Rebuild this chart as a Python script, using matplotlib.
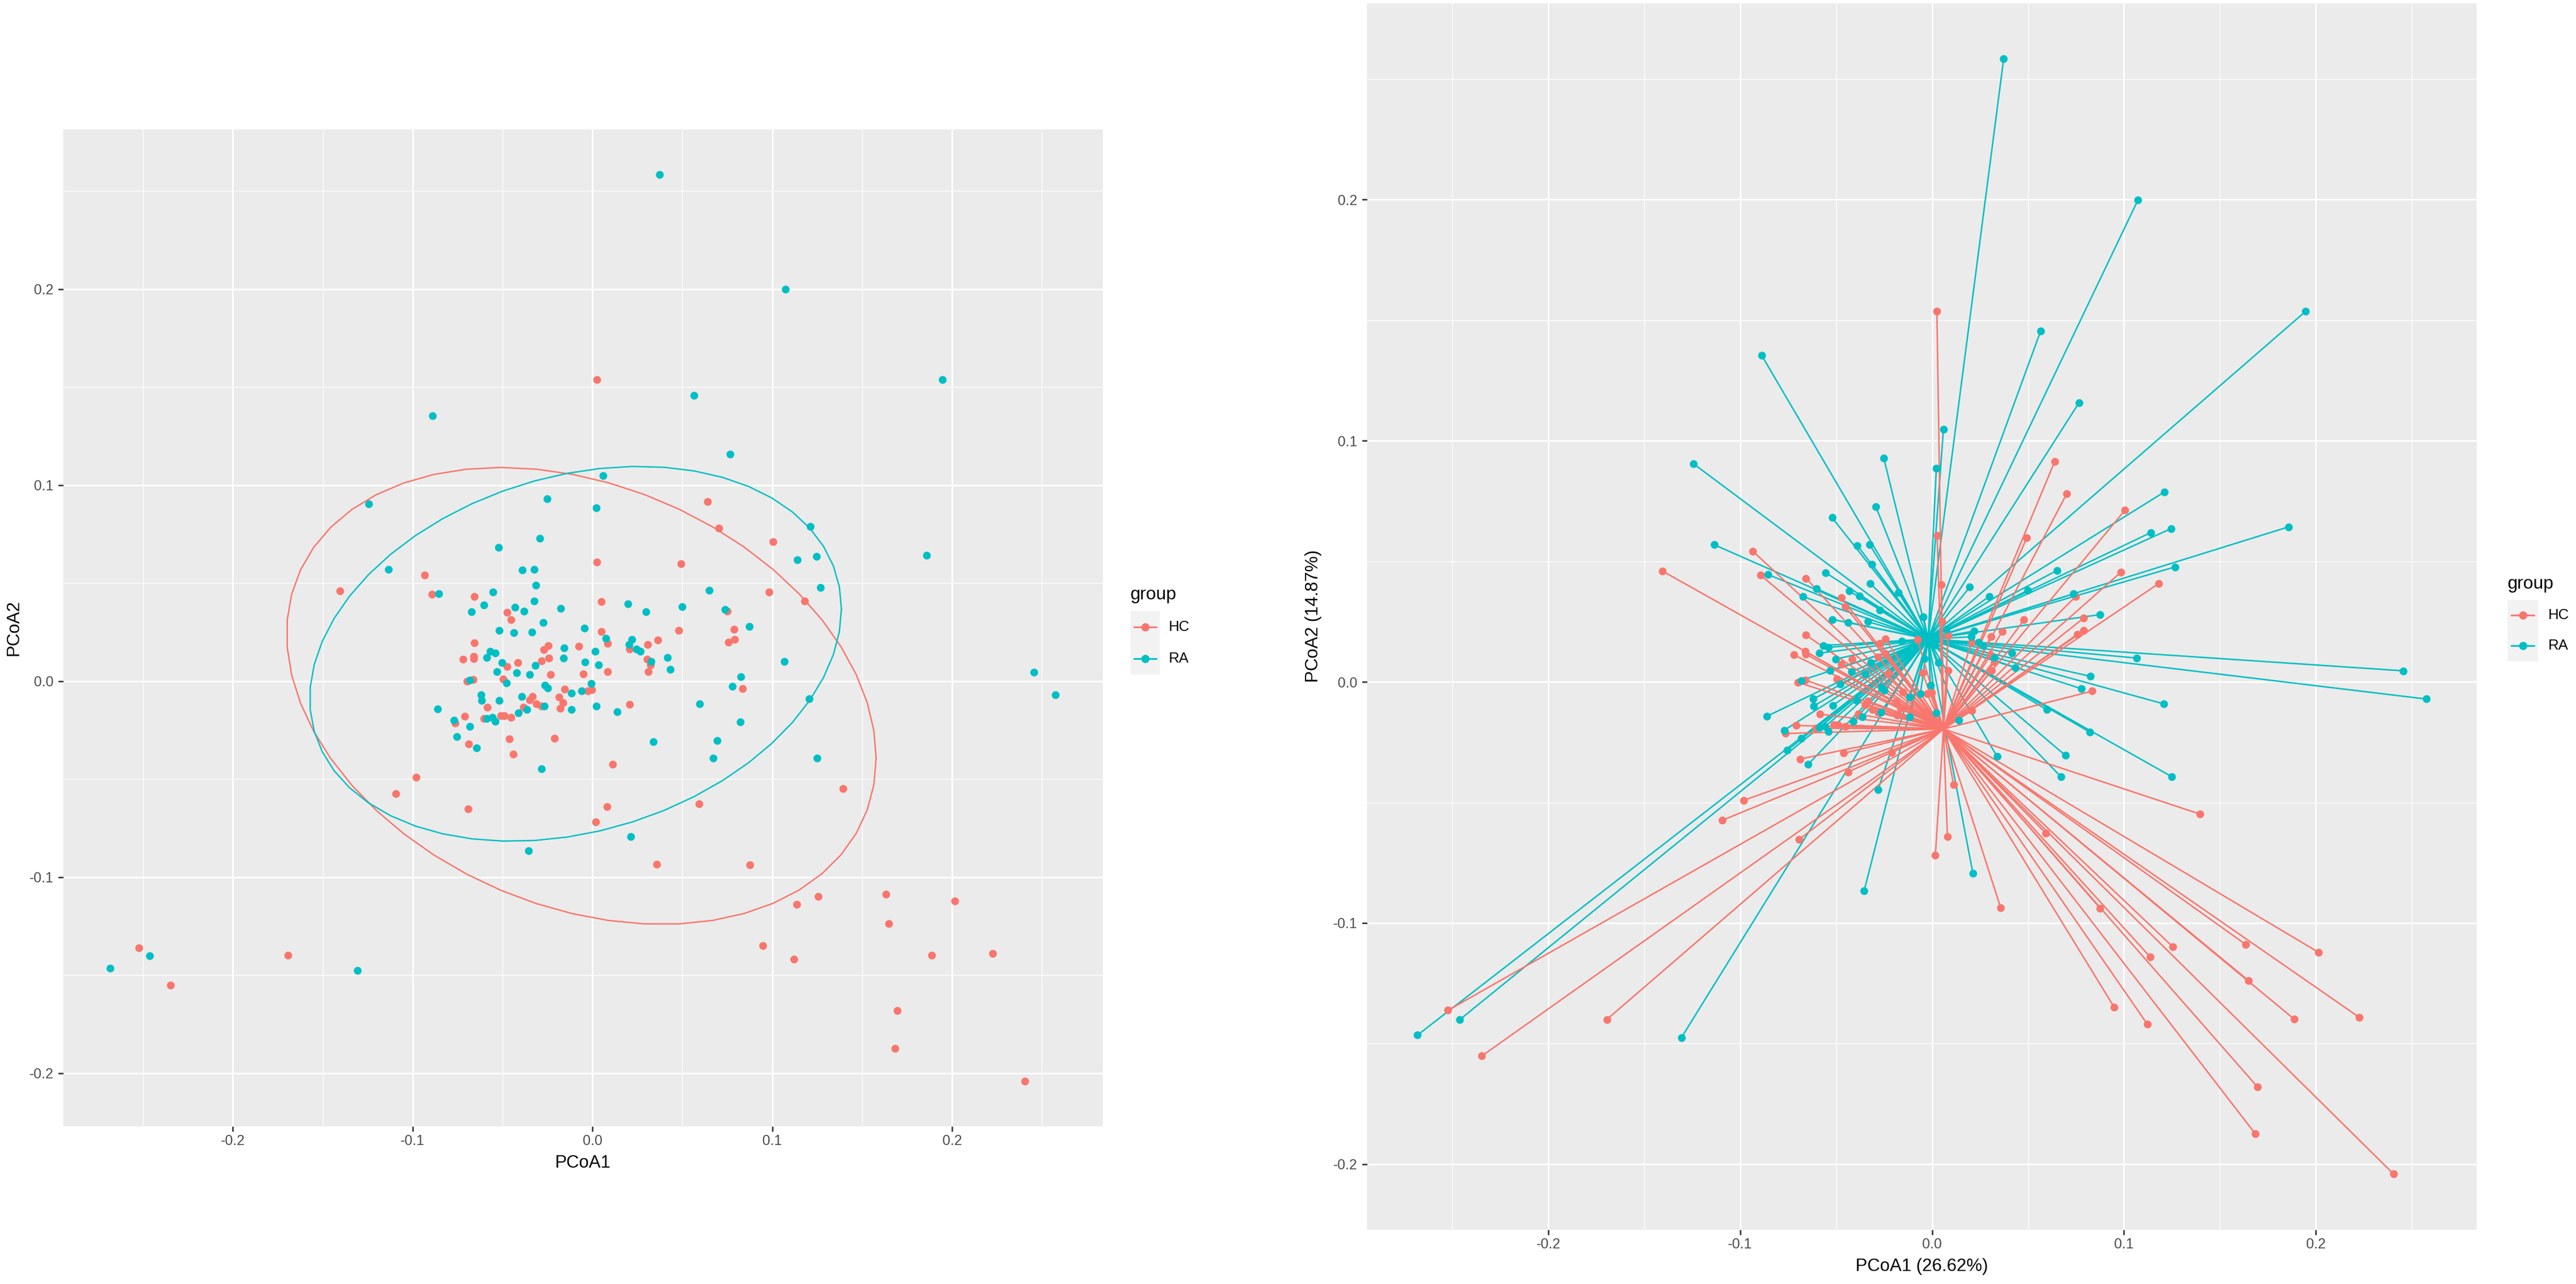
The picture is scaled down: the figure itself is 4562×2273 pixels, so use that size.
import numpy as np
import matplotlib
matplotlib.use("Agg")
import matplotlib.pyplot as plt

plt.rcParams['font.family'] = ['Liberation Sans', 'DejaVu Sans']

# ---------------- data (PCoA coordinates) ----------------
groups = ["HC", "RA"]
group_colors = ["#F8766D", "#00BFC4"]

HC_x = [-0.0934, 0.0026, -0.0894, -0.0657, -0.0474, -0.0453, 0.0049, 0.0051, 0.0084, 0.0206,
        0.0306, 0.0365, -0.0657, -0.0244, -0.0272, -0.0076, -0.0720, -0.0661, -0.0659, -0.0242,
        -0.0416, -0.0474, -0.0283, 0.0305, 0.0324, 0.0309, 0.0083, -0.0050, -0.0233, -0.0497,
        -0.0699, -0.0662, -0.0153, -0.0026, -0.0003, -0.0335, -0.0348, -0.0310, -0.0282, -0.0186,
        -0.0165, -0.0181, -0.0585, -0.0764, -0.0709, -0.0688, -0.0605, -0.0510, -0.0490, -0.0453,
        -0.0385, 0.0206, -0.0461, -0.0212, -0.0439, 0.0112, -0.0981,
        0.0702, 0.1005, 0.0493, 0.0984, 0.1181, 0.0749, 0.0789, 0.0479, 0.0791, 0.0756, 0.0835,
        0.0025, 0.0639,
        -0.1093, -0.0693, -0.2523, -0.2346, -0.1695,
        -0.1406,
        0.0080, 0.0017, 0.0593, 0.1395, 0.0357, 0.0875, 0.1137, 0.1255, 0.1633, 0.2015,
        0.1648, 0.0949, 0.1122, 0.1886, 0.2226, 0.1696, 0.1684, 0.2405]
HC_y = [0.0542, 0.0607, 0.0443, 0.0430, 0.0350, 0.0312, 0.0404, 0.0252, 0.0193, 0.0164,
        0.0187, 0.0208, 0.0194, 0.0179, 0.0160, 0.0177, 0.0112, 0.0126, 0.0115, 0.0117,
        0.0093, 0.0073, 0.0104, 0.0112, 0.0083, 0.0047, 0.0047, 0.0037, 0.0032, 0.0011,
        -0.0002, 0.0008, -0.0041, -0.0050, -0.0045, -0.0079, -0.0096, -0.0115, -0.0127, -0.0081,
        -0.0110, -0.0139, -0.0134, -0.0214, -0.0181, -0.0320, -0.0192, -0.0178, -0.0178, -0.0185,
        -0.0134, -0.0120, -0.0296, -0.0293, -0.0374, -0.0426, -0.0491,
        0.0781, 0.0712, 0.0597, 0.0455, 0.0408, 0.0355, 0.0264, 0.0257, 0.0213, 0.0197, -0.0038,
        0.1537, 0.0914,
        -0.0574, -0.0653, -0.1362, -0.1551, -0.1400,
        0.0460,
        -0.0641, -0.0719, -0.0628, -0.0548, -0.0936, -0.0938, -0.1141, -0.1099, -0.1088, -0.1122,
        -0.1238, -0.1349, -0.1420, -0.1398, -0.1391, -0.1680, -0.1874, -0.2041]

RA_x = [0.0022, -0.0293, -0.0521, -0.1136, -0.0390, -0.0325, -0.0314, -0.0855, -0.0554, -0.0603,
        -0.0674, -0.0324, -0.0432, -0.0380, -0.0176, 0.0196, 0.0298, -0.0274, -0.0045, -0.0519,
        -0.0437, -0.0336, 0.0075, 0.0220, 0.0243, 0.0266, 0.0204, -0.0159, 0.0015, -0.0568,
        -0.0542, -0.0589, -0.0160, -0.0502, -0.0319, -0.0040, 0.0033, 0.0326, -0.0531, -0.0420,
        -0.0348, -0.0479, -0.0683, -0.0265, -0.0249, -0.0008, -0.0061, -0.0116, -0.0620, -0.0617,
        -0.0392, -0.0267, -0.0116, 0.0021, -0.0518, -0.0860, -0.0770, -0.0683, -0.0755, -0.0646,
        -0.0589, -0.0558, -0.0542, -0.0411, -0.0364, 0.0138, -0.0282, 0.0339,
        0.1211, 0.1246, 0.1139, 0.1858, 0.0650, 0.1267, 0.0498, 0.0738, 0.0874, 0.0416,
        0.0433, 0.1066, 0.0825, 0.0777, 0.0597, 0.1207, 0.0822, 0.0695, 0.0671, 0.1249,
        0.0373, 0.1073, 0.1947, 0.0566, -0.0888, 0.0765, 0.0059, -0.1244, -0.0252,
        -0.0354, -0.2462, -0.2682, -0.1307,
        0.0213,
        0.2456, 0.2575]
RA_y = [0.0885, 0.0727, 0.0681, 0.0569, 0.0566, 0.0569, 0.0488, 0.0445, 0.0453, 0.0387,
        0.0354, 0.0409, 0.0377, 0.0357, 0.0370, 0.0393, 0.0354, 0.0298, 0.0270, 0.0259,
        0.0247, 0.0250, 0.0218, 0.0211, 0.0164, 0.0151, 0.0187, 0.0170, 0.0152, 0.0151,
        0.0143, 0.0119, 0.0117, 0.0095, 0.0080, 0.0096, 0.0081, 0.0100, 0.0047, 0.0042,
        0.0033, -0.0009, 0.0006, -0.0020, -0.0035, -0.0014, -0.0049, -0.0062, -0.0071, -0.0100,
        -0.0078, -0.0127, -0.0146, -0.0129, -0.0098, -0.0142, -0.0200, -0.0233, -0.0284, -0.0342,
        -0.0190, -0.0185, -0.0205, -0.0163, -0.0146, -0.0158, -0.0448, -0.0310,
        0.0788, 0.0636, 0.0619, 0.0643, 0.0462, 0.0477, 0.0379, 0.0365, 0.0279, 0.0119,
        0.0059, 0.0099, 0.0023, -0.0028, -0.0115, -0.0091, -0.0208, -0.0305, -0.0393, -0.0393,
        0.2584, 0.1999, 0.1537, 0.1456, 0.1354, 0.1157, 0.1047, 0.0905, 0.0929,
        -0.0866, -0.1401, -0.1465, -0.1476,
        -0.0795,
        0.0046, -0.0071]

major_ticks = [-0.2, -0.1, 0.0, 0.1, 0.2]
major_labels = ["-0.2", "-0.1", "0.0", "0.1", "0.2"]
minor_ticks = [-0.25, -0.15, -0.05, 0.05, 0.15, 0.25]

xlab_left, ylab_left = "PCoA1", "PCoA2"
xlab_right, ylab_right = "PCoA1 (26.62%)", "PCoA2 (14.87%)"
legend_title = "group"

data = {"HC": (np.array(HC_x), np.array(HC_y)), "RA": (np.array(RA_x), np.array(RA_y))}


# ---------------- helpers ----------------
def cov_trob(X, nu=5, maxit=25, tol=0.01):
    n, p = X.shape
    loc = X.mean(axis=0)
    w = np.ones(n)
    Xc = X - loc
    for _ in range(maxit):
        w0 = w.copy()
        Xc = X - loc
        A = np.sqrt(w / w.sum())[:, None] * Xc
        _, d, Vt = np.linalg.svd(A, full_matrices=False)
        wX = Xc @ Vt.T @ np.diag(1.0 / d)
        Q = (wX ** 2).sum(axis=1)
        w = (nu + p) / (nu + Q)
        loc = (w[:, None] * X).sum(axis=0) / w.sum()
        if np.all(np.abs(w - w0) < tol):
            break
    S = np.sqrt(w)[:, None] * Xc
    cov = S.T @ S / n
    return cov, loc


def ellipse_path(x, y, level=0.95, segments=51):
    X = np.column_stack([x, y])
    n = len(x)
    shape, center = cov_trob(X)
    R = np.linalg.cholesky(shape).T
    dfd = n - 1
    qf = dfd / 2.0 * ((1 - level) ** (-2.0 / dfd) - 1)
    radius = np.sqrt(2 * qf)
    ang = np.arange(segments + 1) * 2 * np.pi / segments
    circ = np.column_stack([np.cos(ang), np.sin(ang)])
    e = center + radius * (circ @ R)
    return e[:, 0], e[:, 1]


def expanded(vals):
    lo, hi = np.min(vals), np.max(vals)
    r = hi - lo
    return lo - 0.05 * r, hi + 0.05 * r


W, H = 4562, 2273
fig = plt.figure(figsize=(W / 100, H / 100), dpi=100)


def px_axes(l, t, r, b):
    return fig.add_axes([l / W, 1 - b / H, (r - l) / W, (b - t) / H])


def style(ax):
    ax.set_facecolor("#EBEBEB")
    for s in ax.spines.values():
        s.set_visible(False)
    ax.set_xticks(major_ticks)
    ax.set_xticklabels(major_labels)
    ax.set_yticks(major_ticks)
    ax.set_yticklabels(major_labels)
    ax.set_xticks(minor_ticks, minor=True)
    ax.set_yticks(minor_ticks, minor=True)
    ax.grid(which="major", color="white", lw=1.95)
    ax.grid(which="minor", color="white", lw=0.97)
    ax.set_axisbelow(True)
    ax.tick_params(which="major", length=6.7, width=1.9, color="#333333",
                   labelsize=18, labelcolor="#4D4D4D")
    ax.tick_params(which="minor", length=0)
    ax.tick_params(axis="x", pad=3.5)
    ax.tick_params(axis="y", pad=5.4)


def legend(x0, title_base, key_top, key_w, key_h, lab_x):
    fig.text(x0 / W, 1 - title_base / H, legend_title, fontsize=23, ha="left", va="baseline")
    kax = fig.add_axes([x0 / W, 1 - (key_top + 2 * key_h) / H, key_w / W, 2 * key_h / H])
    kax.set_facecolor("#F2F2F2")
    kax.set_xlim(0, 1)
    kax.set_ylim(0, 2)
    kax.set_xticks([])
    kax.set_yticks([])
    for s in kax.spines.values():
        s.set_visible(False)
    for i, (g, c) in enumerate(zip(groups, group_colors)):
        yc = 1.5 - i
        kax.plot([0.1, 0.9], [yc, yc], color=c, lw=2.2, solid_capstyle="butt")
        kax.plot([0.5], [yc], "o", color=c, ms=10.5, mew=0)
        fig.text(lab_x / W, 1 - (key_top + (i + 0.5) * key_h) / H, g, fontsize=18.5,
                 ha="left", va="center")


allx = np.concatenate([data[g][0] for g in groups])
ally = np.concatenate([data[g][1] for g in groups])
xlim = expanded(allx)
ylim = expanded(ally)

# ---------------- left panel: points + ellipses ----------------
axL = px_axes(111.6, 228.8, 1952.7, 1994)
style(axL)
for g, c in zip(groups, group_colors):
    x, y = data[g]
    axL.scatter(x, y, s=100, color=c, linewidths=0, zorder=3)
for g, c in zip(groups, group_colors):
    x, y = data[g]
    ex, ey = ellipse_path(x, y)
    axL.plot(ex, ey, color=c, lw=1.8, zorder=4)
axL.set_xlim(xlim)
axL.set_ylim(ylim)
fig.text(1032 / W, 1 - 2059 / H, xlab_left, fontsize=22.5, ha="center", va="center")
fig.text(24 / W, 1 - 1111 / H, ylab_left, fontsize=22.5, ha="center", va="center", rotation=90)
legend(2001.7, 1061, 1081.7, 52, 56, 2070)

# ---------------- right panel: spider plot ----------------
axR = px_axes(2421, 5.5, 4386, 2177)
style(axR)
for g, c in zip(["RA", "HC"], ["#00BFC4", "#F8766D"]):
    x, y = data[g]
    cx, cy = np.mean(x), np.mean(y)
    for xi, yi in zip(x, y):
        axR.plot([cx, xi], [cy, yi], color=c, lw=1.9, zorder=2)
for g, c in zip(groups, group_colors):
    x, y = data[g]
    axR.scatter(x, y, s=100, color=c, linewidths=0, zorder=3)
axR.set_xlim(xlim)
axR.set_ylim(ylim)
fig.text(3403 / W, 1 - 2242 / H, xlab_right, fontsize=22.5, ha="center", va="center")
fig.text(2326 / W, 1 - 1091 / H, ylab_right, fontsize=22.5, ha="center", va="center", rotation=90)
legend(4440.7, 1041.7, 1061.7, 54, 54.5, 4513)

fig.savefig("out.png", dpi=100, facecolor="white")
